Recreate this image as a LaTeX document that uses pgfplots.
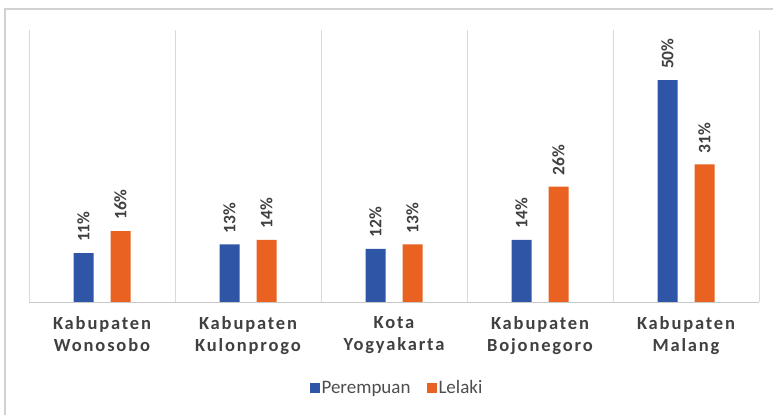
\documentclass[border=0pt]{standalone}
\usepackage{fontspec}
\setmainfont{Carlito}
\newfontfamily\catfont[LetterSpace=10]{Carlito}
\usepackage{pgfplots}
\pgfplotsset{compat=1.18}
\definecolor{cblue}{RGB}{47,85,166}
\definecolor{corange}{RGB}{233,98,33}
\definecolor{gridc}{RGB}{217,217,217}
\definecolor{basec}{RGB}{200,200,200}
\definecolor{txt}{RGB}{64,64,64}
\definecolor{legtxt}{RGB}{77,77,77}
\begin{document}
\begin{tikzpicture}
\useasboundingbox (0bp,0bp) rectangle (773bp,415bp);
\draw[color=black!18, line width=1.6bp] (5bp,0bp) -- (5bp,406bp) -- (773bp,406bp);
\begin{axis}[
  at={(29bp,113bp)}, anchor=south west,
  scale only axis, width=730bp, height=272bp,
  /pgf/number format/assume math mode=true,
  ybar, bar width=20bp, ybar=17bp,
  xmin=-0.5, xmax=4.5, ymin=0, ymax=61.3,
  enlargelimits=false,
  axis x line*=bottom, axis y line=none,
  axis line style={-, draw=basec, line width=0.9bp},
  xtick={0,1,2,3,4},
  xticklabels={{Kabupaten\\Wonosobo},{Kabupaten\\Kulonprogo},{Kota\\Yogyakarta},{Kabupaten\\Bojonegoro},{Kabupaten\\Malang}},
  xticklabel style={align=center, font=\catfont\bfseries\fontsize{18.5bp}{22bp}\selectfont, text=txt, yshift=-11bp},
  major tick length=0pt,
  extra x ticks={-0.5,0.5,1.5,2.5,3.5,4.5},
  extra x tick labels={},
  extra x tick style={grid=major, major grid style={draw=gridc, line width=0.9bp}, major tick length=0pt},
  nodes near coords={\pgfmathprintnumber{\pgfplotspointmeta}\%},
  nodes near coords style={rotate=90, anchor=west, inner xsep=11bp, font=\bfseries\fontsize{17.5bp}{19bp}\selectfont, text=txt},
  legend columns=2,
  legend style={at={(axis description cs:0.5,0)}, anchor=center, xshift=3bp, yshift=-86bp, draw=none, fill=none,
    font=\fontsize{19bp}{21bp}\selectfont, text=legtxt,
    /tikz/every even column/.append style={column sep=14bp}},
  legend image code/.code={\fill[#1] (0bp,-5bp) rectangle (10bp,5bp);},
]
\addplot[fill=cblue, draw=none] coordinates {(0,11) (1,13) (2,12) (3,14) (4,50)};
\addplot[fill=corange, draw=none] coordinates {(0,16) (1,14) (2,13) (3,26) (4,31)};
\legend{Perempuan, Lelaki}
\end{axis}
\end{tikzpicture}
\end{document}
